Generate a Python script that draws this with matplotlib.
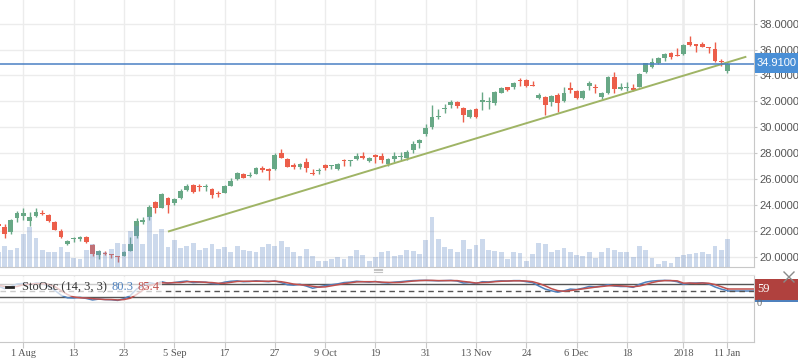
import matplotlib
matplotlib.use("Agg")
import matplotlib.pyplot as plt
import numpy as np
from matplotlib.lines import Line2D
from matplotlib.patches import Rectangle

W, H = 798, 363

# daily candles, index -1 (cut at the left edge) .. 115 (11 Jan)
opens = [22.55, 22.31, 21.93, 22.96, 23.16, 22.78, 23.16, 23.37, 23.22, 22.65,
         21.98, 21.00, 21.36, 21.36, 21.52, 20.90, 20.12, 20.30, 20.18, 20.05,
         20.07, 20.46, 21.59, 22.70, 23.08, 24.22, 23.78, 24.53, 24.14, 24.55,
         25.15, 25.53, 25.47, 25.40, 25.23, 24.89, 24.94, 25.48, 25.97, 26.39,
         26.21, 26.39, 26.83, 26.75, 26.77, 27.98, 27.54, 27.08, 26.93, 27.29,
         26.44, 26.64, 27.08, 26.98, 26.79, 27.44, 27.37, 27.52, 27.78, 27.39,
         27.83, 27.78, 27.16, 27.52, 27.70, 27.62, 28.24, 28.81, 29.48, 30.04,
         30.77, 31.38, 31.72, 31.95, 31.46, 30.81, 31.41, 31.97, 31.92, 31.90,
         32.67, 33.08, 33.13, 33.65, 33.65, 33.25, 32.28, 32.31, 31.95, 32.51,
         32.05, 33.00, 32.80, 32.28, 33.21, 33.08, 32.31, 32.62, 33.90, 32.98,
         33.05, 33.00, 33.13, 34.24, 34.68, 34.94, 35.37, 35.76, 35.55, 35.66,
         36.56, 36.43, 36.43, 36.15, 36.02, 35.06, 34.37]
highs = [22.60, 22.50, 22.88, 23.55, 23.73, 23.42, 23.73, 23.60, 23.29, 22.75,
         22.11, 21.28, 21.52, 21.62, 21.62, 20.98, 20.51, 20.43, 20.23, 20.05,
         20.43, 21.49, 22.98, 23.04, 23.99, 24.32, 24.94, 24.58, 24.53, 25.20,
         25.61, 25.64, 25.61, 25.61, 25.33, 25.09, 25.53, 26.05, 26.56, 26.49,
         26.56, 26.93, 27.03, 26.87, 28.03, 28.31, 27.60, 27.21, 27.26, 27.60,
         26.75, 26.87, 27.16, 27.10, 27.24, 27.52, 27.49, 27.98, 28.11, 27.72,
         27.91, 27.98, 27.60, 28.09, 28.09, 28.24, 28.94, 29.09, 30.25, 31.72,
         31.38, 31.77, 32.10, 32.03, 31.59, 31.41, 31.46, 32.70, 32.31, 32.82,
         33.08, 33.13, 33.52, 33.78, 33.70, 33.59, 32.67, 32.41, 32.47, 32.62,
         33.13, 33.47, 32.88, 32.88, 33.60, 33.34, 32.75, 33.98, 34.29, 33.45,
         33.47, 33.34, 34.21, 34.99, 35.33, 35.45, 35.74, 35.84, 36.10, 36.41,
         37.05, 36.43, 36.56, 36.22, 36.56, 35.25, 35.06]
lows = [22.30, 21.46, 21.73, 22.70, 22.83, 22.39, 23.06, 23.22, 22.70, 22.03,
        21.46, 20.90, 21.15, 21.23, 21.08, 20.05, 19.82, 20.12, 19.87, 19.61,
        20.02, 20.41, 21.44, 22.52, 22.83, 23.39, 23.73, 23.39, 24.01, 24.48,
        25.09, 24.94, 25.09, 25.09, 24.55, 24.63, 24.92, 25.43, 25.92, 26.05,
        26.13, 26.36, 26.56, 25.90, 26.72, 27.60, 26.90, 26.79, 26.79, 26.56,
        26.33, 26.41, 26.72, 26.77, 26.72, 26.98, 27.00, 27.47, 27.52, 27.34,
        27.26, 27.26, 27.00, 27.34, 27.47, 27.47, 28.03, 28.37, 29.32, 29.89,
        30.64, 31.12, 31.51, 31.46, 30.43, 30.71, 30.74, 31.33, 31.43, 31.74,
        32.62, 32.82, 32.93, 33.21, 33.13, 33.16, 32.16, 30.94, 31.64, 31.20,
        31.97, 32.67, 32.16, 32.20, 32.88, 32.62, 32.20, 32.54, 32.62, 32.85,
        32.82, 32.78, 33.08, 34.17, 34.60, 34.86, 35.14, 35.25, 35.50, 35.58,
        36.30, 35.84, 36.17, 35.71, 35.06, 34.75, 34.21]
closes = [22.35, 21.73, 22.83, 23.37, 23.35, 23.06, 23.45, 23.29, 22.78, 22.08,
          21.54, 21.18, 21.41, 21.54, 21.15, 20.18, 20.43, 20.18, 20.13, 20.00,
          20.36, 20.98, 22.75, 22.85, 23.83, 23.78, 24.86, 24.01, 24.45, 25.07,
          25.46, 24.99, 25.40, 25.47, 24.79, 24.84, 25.46, 25.84, 26.44, 26.10,
          26.31, 26.87, 26.72, 26.64, 27.83, 27.64, 26.95, 26.93, 27.16, 26.87,
          26.39, 26.72, 26.85, 27.06, 27.16, 27.37, 27.44, 27.78, 27.60, 27.64,
          27.72, 27.47, 27.52, 27.78, 27.78, 28.06, 28.70, 29.01, 29.92, 30.77,
          30.89, 31.51, 31.97, 31.66, 30.94, 31.33, 30.81, 32.08, 32.05, 32.70,
          33.03, 32.88, 33.44, 33.59, 33.19, 33.16, 32.49, 31.74, 32.41, 31.90,
          32.67, 32.88, 32.24, 32.80, 33.44, 33.00, 32.67, 33.90, 32.93, 33.13,
          33.13, 32.88, 34.09, 34.94, 35.06, 35.37, 35.66, 35.45, 35.50, 36.35,
          36.35, 36.30, 36.22, 36.10, 35.12, 35.02, 34.91]
volume = [375, 525, 425, 475, 825, 1000, 725, 425, 375, 375,
          500, 375, 225, 200, 425, 575, 400, 375, 450, 600,
          575, 900, 1025, 575, 1275, 825, 950, 500, 675, 475,
          525, 600, 425, 475, 575, 450, 500, 375, 525, 425,
          400, 375, 500, 575, 525, 650, 500, 375, 275, 450,
          275, 150, 150, 200, 250, 200, 275, 425, 300, 150,
          250, 375, 400, 275, 300, 425, 400, 325, 675, 1250,
          700, 500, 450, 375, 675, 450, 550, 700, 425, 400,
          375, 200, 375, 350, 150, 325, 600, 575, 375, 425,
          475, 375, 300, 275, 375, 225, 375, 475, 425, 375,
          375, 250, 525, 425, 225, 75, 150, 100, 250, 300,
          325, 350, 375, 325, 525, 425, 700]
stoch_k = [72, 60, 70, 82, 84, 78, 86, 84, 70, 52,
           30, 18, 17, 20, 15, 8, 12, 10, 9, 6,
           14, 28, 58, 72, 88, 82, 92, 85, 88, 92,
           95, 88, 90, 90, 84, 82, 90, 94, 96, 92,
           93, 96, 94, 92, 96, 88, 78, 76, 80, 72,
           62, 68, 74, 78, 82, 88, 90, 94, 92, 90,
           93, 88, 86, 90, 92, 95, 97, 98, 98, 97,
           96, 97, 98, 95, 86, 88, 84, 92, 91, 94,
           96, 95, 97, 97, 92, 88, 72, 58, 50, 44,
           50, 58, 56, 62, 70, 68, 72, 78, 72, 70,
           70, 66, 80, 90, 95, 97, 98, 97, 92, 80.3,
           85, 86, 87, 82, 68, 58, 51]
stoch_d = [76, 70, 67, 70, 78, 81, 83, 83, 80, 69,
           51, 33, 22, 18, 17, 14, 12, 10, 10, 8,
           10, 16, 33, 53, 73, 81, 87, 86, 88, 88,
           92, 92, 91, 89, 88, 85, 85, 89, 93, 94,
           94, 94, 94, 94, 94, 92, 87, 81, 78, 76,
           71, 67, 68, 73, 78, 83, 87, 91, 92, 92,
           92, 90, 89, 88, 89, 92, 95, 97, 98, 98,
           97, 97, 97, 97, 93, 90, 86, 88, 89, 92,
           94, 95, 96, 96, 95, 92, 84, 73, 60, 51,
           48, 51, 55, 59, 63, 67, 70, 73, 74, 73,
           71, 69, 72, 79, 88, 94, 97, 97, 96, 85.4,
           86, 84, 86, 85, 79, 69, 59]

tick_pos = [3, 11, 19, 27, 35, 43, 51, 59, 67, 75, 83, 91, 99, 108, 115]
tick_labels = ["1 Aug", "13", "23", "5 Sep", "17", "27", "9 Oct", "19", "31",
               "13 Nov", "24", "6 Dec", "18", "2018", "11 Jan"]
price_ticks = [20, 22, 24, 26, 28, 30, 32, 34, 36, 38]
last_price = 34.91
trend_x = [26, 118]
trend_y = [21.93, 35.45]
cursor_i = 108
stoch_levels = [80, 50, 20]

GREEN, RED = "#68a886", "#ec5e4a"
K_COL, D_COL = "#4f81bd", "#c0504d"
GRID = "#ececec"
AXC = "#c8c8c8"


def box(x0, y0, x1, y1):
    # pixel box (from top-left) -> figure fraction rect
    return [x0 / W, 1 - y1 / H, (x1 - x0) / W, (y1 - y0) / H]


def fx(x):
    return x / W


def fy(y):
    return 1 - y / H


fig = plt.figure(figsize=(W / 100, H / 100), dpi=100)
fig.patch.set_facecolor("white")

ax = fig.add_axes(box(0, 0, 754, 267.3))
axv = fig.add_axes(box(0, 0, 754, 267.3), sharex=ax)
axt = fig.add_axes(box(0, 0, 754, 267.3), sharex=ax, sharey=ax)
axs = fig.add_axes(box(0, 275, 754, 341.7), sharex=ax)

idx = np.arange(-1, len(opens) - 1)
o, hi, lo, c = map(np.asarray, (opens, highs, lows, closes))
cols = np.where(c >= o, GREEN, RED)

# price panel
ax.vlines(idx, lo, hi, colors=cols, lw=1.0, zorder=3)
ax.bar(idx, np.maximum(np.abs(c - o), 0.07), bottom=np.minimum(o, c),
       width=0.76, color=cols, lw=0, zorder=4)
ax.set_xlim(-0.72, 119.22)
ax.set_ylim(19.17, 39.83)
ax.set_xticks(tick_pos)
ax.set_yticks(price_ticks)
ax.set_yticklabels([f"{v:.4f}" for v in price_ticks])
ax.yaxis.tick_right()
ax.tick_params(axis="x", length=0, labelbottom=False)
ax.tick_params(axis="y", length=2.5, color=AXC, pad=1.2, labelsize=8,
               labelcolor="#555555")
for lab in ax.get_yticklabels():
    lab.set_fontfamily("Liberation Sans")
ax.grid(True, color=GRID, lw=1, zorder=0)
ax.axvline(cursor_i, color="#b5b5b5", lw=1, zorder=1)
for s in ("top", "left"):
    ax.spines[s].set_visible(False)
for s in ("right", "bottom"):
    ax.spines[s].set_color(AXC)

# volume overlay (semi transparent over the candles)
axv.bar(idx, volume, width=0.76, color="#6f93c9", alpha=0.35, lw=0)
axv.set_ylim(0, 6683)
axv.axis("off")
axv.patch.set_alpha(0)

# trendline + last price line on top
axt.axis("off")
axt.patch.set_alpha(0)
axt.plot(trend_x, trend_y, color="#9fb465", lw=1.4, solid_capstyle="butt")
axt.axhline(last_price, color="#4a80c4", lw=1.1)

# stochastic panel
axs.plot(idx, stoch_k, color=K_COL, lw=1.1, zorder=4)
axs.plot(idx, stoch_d, color=D_COL, lw=1.1, zorder=4)
axs.hlines([stoch_k[-1], stoch_d[-1]], idx[-1], 119.22, colors=[K_COL, D_COL], lw=1.1)
axs.axhline(stoch_levels[0], color="#555555", lw=1, zorder=2)
axs.axhline(stoch_levels[1], color="#555555", lw=1, ls=(0, (4, 3)), zorder=2)
axs.axhline(stoch_levels[2], color="#555555", lw=1, zorder=2)
axs.axhline(0, color="#e4e4e4", lw=1, zorder=1)
axs.set_ylim(-183.9, 122.8)
axs.set_yticks([])
axs.set_xticks(tick_pos)
axs.set_xticklabels(tick_labels)
axs.tick_params(axis="x", length=4, color=AXC, pad=1.5, labelsize=7.5,
                labelcolor="#555555")
for lab in axs.get_xticklabels():
    lab.set_fontfamily("Liberation Serif")
axs.grid(True, axis="x", color=GRID, lw=1, zorder=0)
axs.axvline(cursor_i, color="#b5b5b5", lw=1, zorder=1)
axs.spines["left"].set_visible(False)
axs.spines["top"].set_color("#e2e2e2")
for s in ("right", "bottom"):
    axs.spines[s].set_color(AXC)

# right-hand value labels
fig.text(fx(757), fy(303.5), "0", fontsize=7.5, color="#666666",
         family="Liberation Serif", va="center", ha="left", zorder=1)
fig.add_artist(Rectangle((fx(755), fy(73)), (798 - 755) / W, 20 / H,
                         transform=fig.transFigure, color="#4a8fd6", lw=0))
fig.text(fx(757), fy(63.5), f"{last_price:.4f}", fontsize=8, color="white",
         family="Liberation Sans", va="center", ha="left")
fig.add_artist(Rectangle((fx(755), fy(302)), (798 - 755) / W, 21 / H,
                         transform=fig.transFigure, color=K_COL, lw=0))
fig.add_artist(Rectangle((fx(755), fy(299.5)), (798 - 755) / W, 20.5 / H,
                         transform=fig.transFigure, color="#b0413e", lw=0))
fig.text(fx(757), fy(289.5), f"{stoch_d[-1]:.0f}", fontsize=9, color="white",
         family="Liberation Serif", va="center", ha="left")

# close button of the oscillator pane
for a, b in (((784, 272), (794, 282)), ((784, 282), (794, 272))):
    fig.add_artist(Line2D([fx(a[0]), fx(b[0])], [fy(a[1]), fy(b[1])],
                          transform=fig.transFigure, color="#8a8a8a", lw=1))
# pane splitter grip
for yy in (268.5, 270.3, 272.1):
    fig.add_artist(Line2D([fx(374), fx(382)], [fy(yy), fy(yy)],
                          transform=fig.transFigure, color="#c4c4c4", lw=0.8))

# oscillator legend
fig.add_artist(Rectangle((fx(0), fy(296)), 162 / W, 19 / H,
                         transform=fig.transFigure, color="white", alpha=0.7, lw=0))
fig.add_artist(Line2D([fx(6), fx(13)], [fy(286.5), fy(286.5)],
                      transform=fig.transFigure, color="#222222", lw=2))
fig.text(fx(22), fy(287), "StoOsc (14, 3, 3)", fontsize=9, color="#333333",
         family="Liberation Serif", va="center", ha="left")
fig.text(fx(112), fy(287), f"{stoch_k[cursor_i + 1]:.1f}", fontsize=9, color=K_COL,
         family="Liberation Serif", va="center", ha="left")
fig.text(fx(138), fy(287), f"{stoch_d[cursor_i + 1]:.1f}", fontsize=9, color=D_COL,
         family="Liberation Serif", va="center", ha="left")

fig.savefig("out.png", dpi=100)
